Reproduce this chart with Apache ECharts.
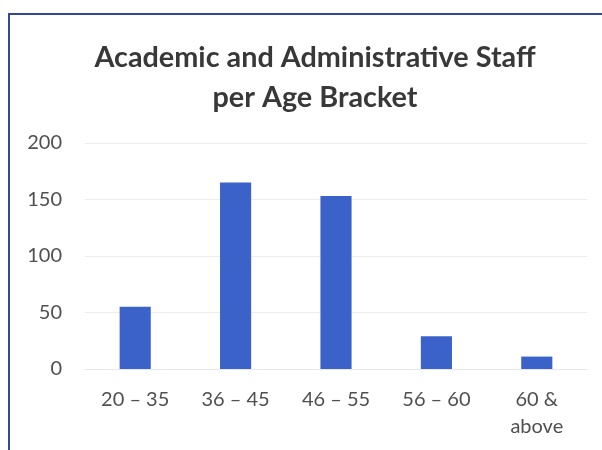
<!DOCTYPE html>
<html><head><meta charset="utf-8">
<script src="https://cdn.jsdelivr.net/npm/echarts@6/dist/echarts.min.js"></script>
<style>html,body{margin:0;padding:0;background:#fff}#c{width:602px;height:450px}</style>
</head><body><div id="c"></div>
<script>
const categories = ['20 – 35', '36 – 45', '46 – 55', '56 – 60', '60 &\nabove'];
const staffCounts = [55, 165, 153, 29, 11];
const yTicks = [0, 50, 100, 150, 200];

const chart = echarts.init(document.getElementById('c'));
chart.setOption({
  backgroundColor: '#fff',
  animation: false,
  graphic: [{
    type: 'rect', shape: {x: 9, y: 14, width: 640, height: 480},
    style: {fill: 'none', stroke: '#34489a', lineWidth: 2}
  }],
  title: {
    text: 'Academic and Administrative Staff\nper Age Bracket',
    left: 310, top: 33, textAlign: 'center',
    textStyle: {fontFamily: 'Lato', fontWeight: 'bold', fontSize: 28.8, color: '#383838', lineHeight: 40}
  },
  grid: {left: 85, right: 15, top: 143, bottom: 81, containLabel: false},
  xAxis: {
    type: 'category', data: categories,
    axisLine: {show: true, lineStyle: {color: '#e6e6ee'}},
    axisTick: {show: false},
    axisLabel: {fontFamily: 'Lato', fontSize: 20, color: '#505050', margin: 17, lineHeight: 27, interval: 0}
  },
  yAxis: {
    type: 'value', min: yTicks[0], max: yTicks[yTicks.length - 1], interval: 50,
    axisLine: {show: false}, axisTick: {show: false},
    splitLine: {lineStyle: {color: '#ececf4'}},
    axisLabel: {fontFamily: 'Lato', fontSize: 20, color: '#505050', margin: 23}
  },
  series: [{
    type: 'bar', data: staffCounts, barWidth: '31%',
    itemStyle: {color: '#3a62c9'}
  }]
});
</script></body></html>
